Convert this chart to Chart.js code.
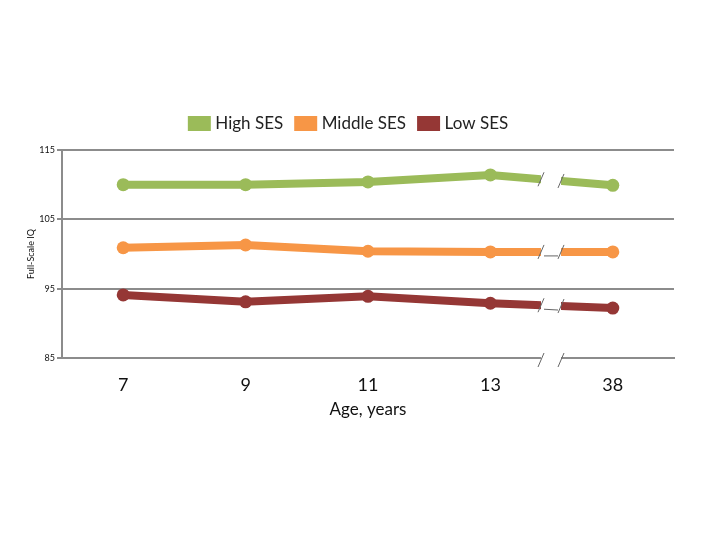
<!DOCTYPE html>
<html>
<head>
<meta charset="utf-8">
<script src="https://cdn.jsdelivr.net/npm/chart.js@4/dist/chart.umd.min.js"></script>
<style>
  html, body { margin: 0; padding: 0; background: #fff; }
  #wrap { width: 720px; height: 540px; }
</style>
</head>
<body>
<div id="wrap"><canvas id="chart" width="720" height="540"></canvas></div>
<script>
const ages = ['7', '9', '11', '13', '38'];
const highSES = [110.0, 110.0, 110.4, 111.4, 109.9];
const middleSES = [100.9, 101.3, 100.4, 100.3, 100.3];
const lowSES = [94.1, 93.1, 93.9, 92.9, 92.2];
const yTicks = [85, 95, 105, 115];

const gridColor = '#8c8c8c';
const font = 'Lato, "Open Sans", sans-serif';

const makeSet = (label, data, color) => ({
  label: label,
  data: data,
  borderColor: color,
  backgroundColor: color,
  borderWidth: 8,
  pointRadius: 6.5,
  pointHoverRadius: 6.5,
  pointBorderWidth: 0,
  tension: 0,
  fill: false
});

// extra room under the legend
const legendGap = {
  id: 'legendGap',
  afterInit(chart) {
    const fit = chart.legend.fit;
    chart.legend.fit = function () {
      fit.call(this);
      this.height += 8;
    };
  }
};

// axis break between 13 and 38
const breakPlugin = {
  id: 'axisBreak',
  afterDatasetsDraw(chart) {
    const ctx = chart.ctx;
    const x = chart.scales.x;
    const y = chart.scales.y;
    const area = chart.chartArea;
    const x13 = x.getPixelForValue(3);
    const x38 = x.getPixelForValue(4);
    const mid = Math.round((x13 + x38) / 2);
    const left = mid - 11;
    const right = mid + 9;
    ctx.save();
    ctx.fillStyle = '#fff';
    ctx.fillRect(left, area.top + 2, right - left, area.bottom - area.top + 10);
    // gridlines through the gap
    ctx.strokeStyle = gridColor;
    ctx.lineWidth = 2;
    yTicks.slice(1).forEach((v) => {
      const py = Math.round(y.getPixelForValue(v));
      ctx.beginPath();
      ctx.moveTo(left - 1, py);
      ctx.lineTo(right + 1, py);
      ctx.stroke();
    });
    const slash = (px, py) => {
      ctx.beginPath();
      ctx.moveTo(px - 3, py + 7);
      ctx.lineTo(px + 3, py - 7);
      ctx.stroke();
    };
    ctx.lineWidth = 1;
    ctx.strokeStyle = '#666';
    chart.data.datasets.forEach((ds, i) => {
      const pts = chart.getDatasetMeta(i).data;
      const a = pts[3], b = pts[4];
      const at = (px) => a.y + (b.y - a.y) * (px - a.x) / (b.x - a.x);
      slash(left, at(left));
      slash(right, at(right));
      if (i > 0) {
        ctx.beginPath();
        ctx.moveTo(left + 3, at(left) + 4);
        ctx.lineTo(right - 3, at(right) + 4);
        ctx.stroke();
      }
    });
    slash(left, area.bottom + 2);
    slash(right, area.bottom + 2);
    ctx.restore();
  }
};

new Chart(document.getElementById('chart').getContext('2d'), {
  type: 'line',
  data: {
    labels: ages,
    datasets: [
      makeSet('High SES', highSES, '#9bbb59'),
      makeSet('Middle SES', middleSES, '#f79646'),
      makeSet('Low SES', lowSES, '#953735')
    ]
  },
  options: {
    responsive: false,
    animation: false,
    layout: { padding: { top: 100, right: 46, bottom: 120, left: 26 } },
    plugins: {
      tooltip: { enabled: false },
      legend: {
        position: 'top',
        labels: {
          boxWidth: 15,
          boxHeight: 7,
          padding: 15,
          color: '#222',
          font: { family: font, size: 17 }
        }
      }
    },
    scales: {
      x: {
        offset: true,
        grid: { display: false },
        border: { display: true, color: gridColor, width: 2 },
        ticks: { color: '#111', padding: 8, font: { family: font, size: 18 } },
        title: {
          display: true,
          text: 'Age, years',
          color: '#111',
          padding: 0,
          font: { family: font, size: 17 }
        },
        afterFit: (s) => { s.height = 62; }
      },
      y: {
        min: 85,
        max: 115,
        afterBuildTicks: (s) => { s.ticks = yTicks.map((v) => ({ value: v })); },
        grid: { color: gridColor, lineWidth: 2, tickLength: 5 },
        border: { display: true, color: gridColor, width: 2 },
        ticks: { color: '#111', padding: 2, font: { family: font, size: 9 } },
        title: {
          display: true,
          text: 'Full-Scale IQ',
          color: '#111',
          padding: 0,
          font: { family: font, size: 9 }
        },
        afterFit: (s) => { s.width = 36; }
      }
    }
  },
  plugins: [legendGap, breakPlugin]
});
</script>
</body>
</html>
